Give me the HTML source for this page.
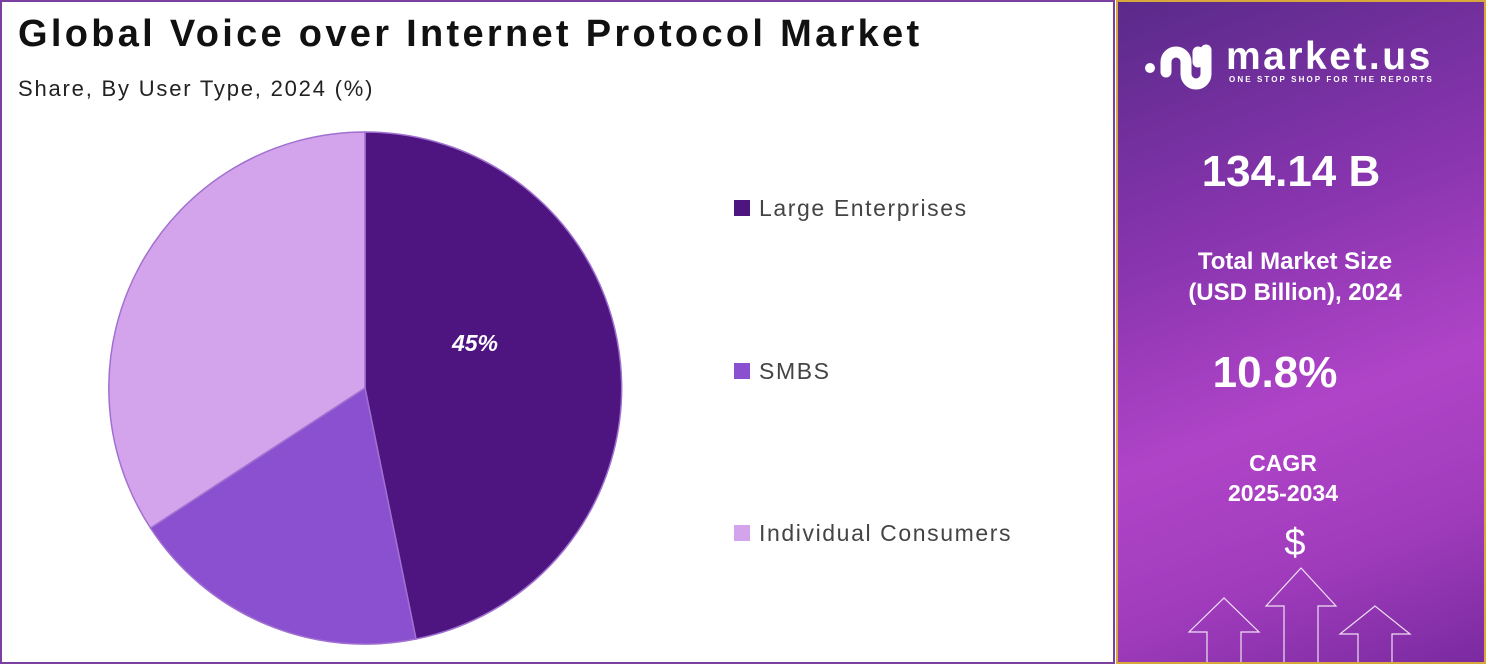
<!DOCTYPE html>
<html><head><style>
body{margin:0;width:1486px;height:664px;overflow:hidden;background:#fff;font-family:"Liberation Sans",sans-serif;}
.left{position:absolute;left:0;top:0;width:1111px;height:660px;border:2px solid #7b3fa0;background:#fff;}
.right{position:absolute;left:1116px;top:0;width:366px;height:660px;border:2px solid #d8a93a;background:linear-gradient(160deg,#5a2a8a 0%,#8a35b0 35%,#b044c8 60%,#a03cbc 80%,#7a2aa0 100%);color:#fff;text-align:center;overflow:hidden;}
.t{position:absolute;left:0;width:100%;font-weight:bold;}
</style></head><body>
<div class="left">
<div style="position:absolute;left:16px;top:11px;font-size:38px;font-weight:bold;color:#111;letter-spacing:3.3px;">Global Voice over Internet Protocol Market</div>
<div style="position:absolute;left:16px;top:74px;font-size:22px;color:#222;letter-spacing:1.8px;">Share, By User Type, 2024 (%)</div>
<svg style="position:absolute;left:-2px;top:-2px" width="1111" height="660">
<path d="M365,388 L365,132 A256,256 0 0 1 416,639 Z" fill="#4e1581" stroke="#a070d0" stroke-width="1.5"/>
<path d="M365,388 L416,639 A256,256 0 0 1 150.5,528 Z" fill="#8b50cf" stroke="#a070d0" stroke-width="1.5"/>
<path d="M365,388 L150.5,528 A256,256 0 0 1 365,132 Z" fill="#d3a4ec" stroke="#a070d0" stroke-width="1.5"/>
<text x="475" y="351" font-size="23" font-weight="bold" font-style="italic" fill="#fff" text-anchor="middle" font-family="Liberation Sans">45%</text>
<rect x="734" y="200" width="16" height="16" fill="#4e1581"/>
<text x="759" y="216" font-size="23" fill="#444" font-family="Liberation Sans" letter-spacing="1.6">Large Enterprises</text>
<rect x="734" y="363" width="16" height="16" fill="#8b50cf"/>
<text x="759" y="379" font-size="23" fill="#444" font-family="Liberation Sans" letter-spacing="1.6">SMBS</text>
<rect x="734" y="525" width="16" height="16" fill="#d3a4ec"/>
<text x="759" y="541" font-size="23" fill="#444" font-family="Liberation Sans" letter-spacing="1.6">Individual Consumers</text>
</svg>
</div>
<div class="right">
<svg style="position:absolute;left:0;top:0" width="120" height="100" fill="none" stroke="#fff" stroke-linecap="round" stroke-width="11">
<circle cx="32" cy="66" r="5" fill="#fff" stroke="none"/>
<path d="M48,70 V60 a10,10 0 0 1 20,0 V72 a10,10 0 0 0 20,0 V48"/>
<path d="M80,50 V60"/>
</svg>
<div style="position:absolute;left:108px;top:33px;font-size:39px;font-weight:bold;letter-spacing:2.5px;">market.us</div>
<div style="position:absolute;left:111px;top:73px;font-size:8px;font-weight:bold;letter-spacing:2.1px;">ONE STOP SHOP FOR THE REPORTS</div>
<div class="t" style="top:145px;font-size:44px;left:-10px;">134.14 B</div>
<div class="t" style="top:244px;font-size:24px;line-height:31px;left:-6px;">Total Market Size<br>(USD Billion), 2024</div>
<div class="t" style="top:346px;font-size:44px;left:-26px;">10.8%</div>
<div class="t" style="top:446px;font-size:23px;line-height:30px;left:-18px;">CAGR<br>2025-2034</div>
<div class="t" style="top:520px;font-size:38px;font-weight:normal;left:-6px;">$</div>
<svg style="position:absolute;left:0;top:0" width="366" height="660" fill="none" stroke="#fff" stroke-width="1.2" opacity="0.85">
<path d="M89,660 V630 H71 L106,596 L141,630 H123 V660"/>
<path d="M166,660 V604 H148 L183,566 L218,604 H200 V660"/>
<path d="M240,660 V632 H222 L257,604 L292,632 H274 V660"/>
</svg>
</div>
</body></html>
